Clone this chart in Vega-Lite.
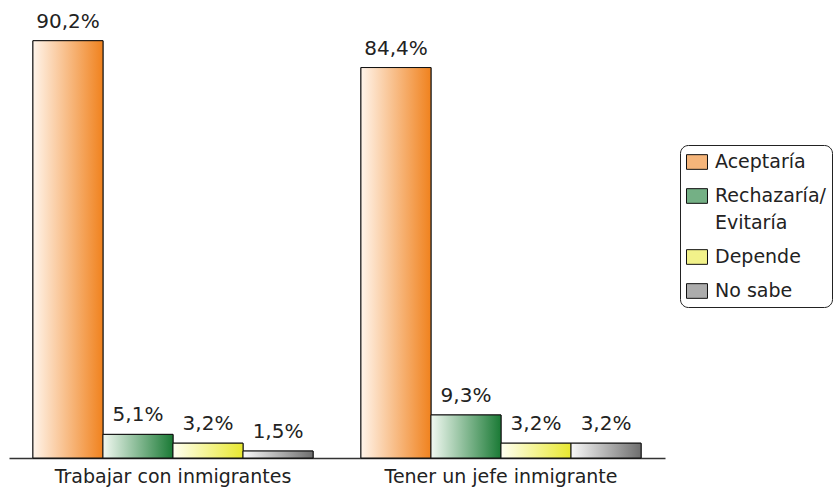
{
  "$schema": "https://vega.github.io/schema/vega-lite/v6.json",
  "autosize": {"type": "none"},
  "padding": {"left": 9, "top": 0, "right": 170, "bottom": 32},
  "width": 656,
  "height": 458,
  "config": {
    "view": {"stroke": null},
    "font": "DejaVu Sans"
  },
  "data": {
    "values": [
      {"grupo": "Trabajar con inmigrantes", "cat": "Aceptaría", "v": 90.2},
      {"grupo": "Trabajar con inmigrantes", "cat": "Rechazaría/Evitaría", "v": 5.1},
      {"grupo": "Trabajar con inmigrantes", "cat": "Depende", "v": 3.2},
      {"grupo": "Trabajar con inmigrantes", "cat": "No sabe", "v": 1.5},
      {"grupo": "Tener un jefe inmigrante", "cat": "Aceptaría", "v": 84.4},
      {"grupo": "Tener un jefe inmigrante", "cat": "Rechazaría/Evitaría", "v": 9.3},
      {"grupo": "Tener un jefe inmigrante", "cat": "Depende", "v": 3.2},
      {"grupo": "Tener un jefe inmigrante", "cat": "No sabe", "v": 3.2}
    ]
  },
  "transform": [
    {"calculate": "replace(format(datum.v, '.1f'), '.', ',') + '%'", "as": "etiqueta"}
  ],
  "encoding": {
    "x": {
      "field": "grupo", "type": "nominal",
      "sort": ["Trabajar con inmigrantes", "Tener un jefe inmigrante"],
      "scale": {"paddingInner": 0.146, "paddingOuter": 0.073},
      "axis": {
        "title": null, "labelAngle": 0, "ticks": false, "labelLimit": 400,
        "labelFontSize": 19, "labelFont": "DejaVu Sans", "labelColor": "#222",
        "labelPadding": 9, "domainColor": "#333", "domainWidth": 1.5
      }
    },
    "xOffset": {
      "field": "cat", "type": "nominal",
      "sort": ["Aceptaría", "Rechazaría/Evitaría", "Depende", "No sabe"],
      "scale": {"paddingInner": 0, "paddingOuter": 0}
    },
    "y": {
      "field": "v", "type": "quantitative",
      "scale": {"domain": [0, 99]},
      "axis": null
    }
  },
  "layer": [
    {
      "mark": {"type": "bar", "stroke": "#111", "strokeWidth": 1},
      "encoding": {
        "fill": {
          "field": "cat", "type": "nominal",
          "sort": ["Aceptaría", "Rechazaría/Evitaría", "Depende", "No sabe"],
          "scale": {"range": ["#f5b57a", "#74b085", "#f2f28a", "#acacac"]},
          "legend": {
            "title": null,
            "orient": "none",
            "legendX": 671,
            "legendY": 145,
            "strokeColor": "#222",
            "cornerRadius": 8,
            "padding": 6,
            "rowPadding": 13,
            "labelFont": "DejaVu Sans",
            "labelFontSize": 19,
            "labelColor": "#222",
            "labelOffset": 7,
            "labelLimit": 200,
            "symbolType": "M-1,-0.7H1V0.7H-1Z",
            "symbolSize": 440,
            "symbolStrokeColor": "#111",
            "symbolStrokeWidth": 1,
            "symbolOpacity": 1,
            "labelExpr": "datum.label == 'Rechazaría/Evitaría' ? ['Rechazaría/', 'Evitaría'] : datum.label",
            "encode": {
              "labels": {"update": {"lineHeight": {"value": 27}}}
            }
          }
        }
      }
    },
    {
      "mark": {"type": "bar", "stroke": "#111", "strokeWidth": 1},
      "encoding": {
        "fill": {
          "condition": [
            {"test": "datum.cat == 'Aceptaría'", "value": {"gradient": "linear", "x1": 0, "y1": 0, "x2": 1, "y2": 0, "stops": [{"offset": 0, "color": "#fff4ea"}, {"offset": 1, "color": "#f0821e"}]}},
            {"test": "datum.cat == 'Rechazaría/Evitaría'", "value": {"gradient": "linear", "x1": 0, "y1": 0, "x2": 1, "y2": 0, "stops": [{"offset": 0, "color": "#f2f9f2"}, {"offset": 1, "color": "#1a7a35"}]}},
            {"test": "datum.cat == 'Depende'", "value": {"gradient": "linear", "x1": 0, "y1": 0, "x2": 1, "y2": 0, "stops": [{"offset": 0, "color": "#fffff2"}, {"offset": 1, "color": "#e8e830"}]}}
          ],
          "value": {"gradient": "linear", "x1": 0, "y1": 0, "x2": 1, "y2": 0, "stops": [{"offset": 0, "color": "#f8f8f8"}, {"offset": 1, "color": "#6e6e6e"}]}
        }
      }
    },
    {
      "mark": {"type": "text", "baseline": "bottom", "dy": -9, "fontSize": 20, "font": "DejaVu Sans", "color": "#222"},
      "encoding": {
        "text": {"field": "etiqueta"}
      }
    }
  ]
}
